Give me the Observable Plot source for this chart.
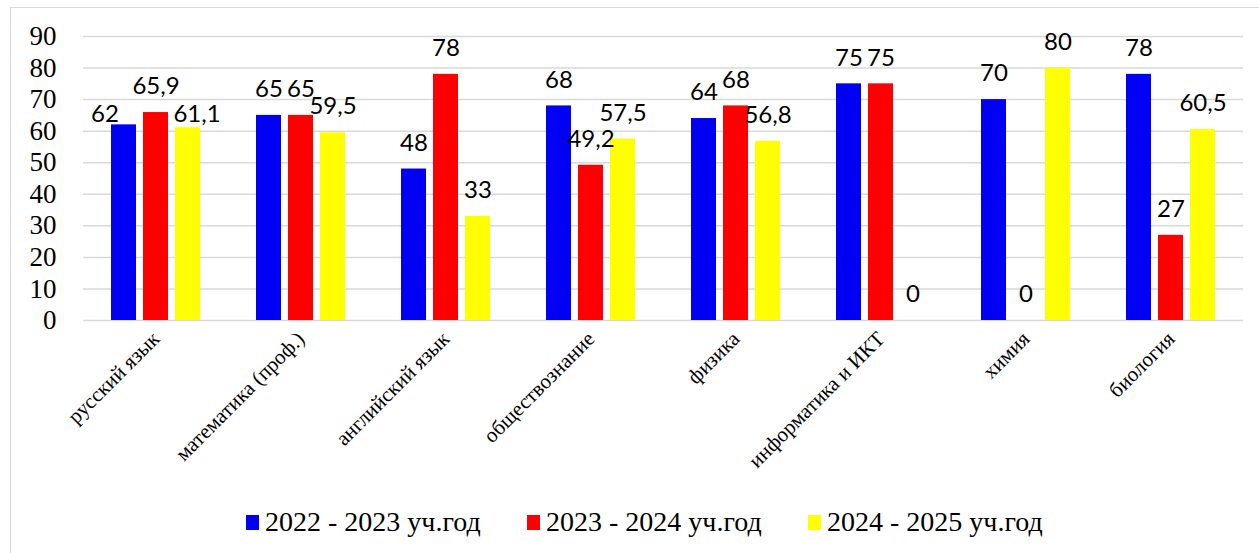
<!DOCTYPE html>
<html>
<head>
<meta charset="utf-8">
<script src="https://cdn.jsdelivr.net/npm/d3@7"></script>
<script src="https://cdn.jsdelivr.net/npm/@observablehq/plot@0.6"></script>
<style>
  html, body { margin: 0; padding: 0; background: #fff; overflow: hidden; }
  #wrap { position: relative; width: 1259px; height: 553px; overflow: hidden; }
  #frame { position: absolute; left: 10px; top: 7px; width: 1300px; height: 600px; border: 1.5px solid #d9d9d9; box-sizing: border-box; }
  #chart { position: absolute; left: 0; top: 0; }
  #legend { position: absolute; left: 0; top: 506px; width: 1259px; height: 32px; font-family: "Liberation Serif", serif; }
  .item { position: absolute; top: 0; height: 32px; }
  .sw { position: absolute; top: 9px; width: 13px; height: 15px; }
  .lt { position: absolute; left: 19px; top: 0; font-size: 28px; line-height: 32px; white-space: nowrap; color: #000; }
</style>
</head>
<body>
<div id="wrap">
  <div id="frame"></div>
  <div id="chart"></div>
  <div id="legend"></div>
</div>
<script>
const subjects = ["русский язык", "математика (проф.)", "английский язык", "обществознание", "физика", "информатика и ИКТ", "химия", "биология"];
const years = ["2022 - 2023 уч.год", "2023 - 2024 уч.год", "2024 - 2025 уч.год"];
const values2022 = [62, 65, 48, 68, 64, 75, 70, 78];
const values2023 = [65.9, 65, 78, 49.2, 68, 75, 0, 27];
const values2024 = [61.1, 59.5, 33, 57.5, 56.8, 0, 80, 60.5];
const yTicks = [0, 10, 20, 30, 40, 50, 60, 70, 80, 90];
const colors = ["#0000f5", "#ff0000", "#ffff00"];

// label nudges (to avoid overlapping labels, as in the original)
const labelNudge = {
  "русский язык|2022 - 2023 уч.год": [-19, 15],
  "русский язык|2024 - 2025 уч.год": [9, 13]
};

const series = [values2022, values2023, values2024];
const data = [];
subjects.forEach((s, i) => {
  years.forEach((yr, j) => {
    data.push({subject: s, year: yr, value: series[j][i]});
  });
});
const fmt = v => String(v).replace(".", ",");
const normal = data.filter(d => !labelNudge[d.subject + "|" + d.year]);
const nudged = data.filter(d => labelNudge[d.subject + "|" + d.year]);

const chart = Plot.plot({
  width: 1259,
  height: 553,
  marginLeft: 82,
  marginRight: 16,
  marginTop: 36,
  marginBottom: 233,
  style: {background: "transparent", overflow: "visible"},
  fx: {domain: subjects, paddingInner: 0, paddingOuter: 0},
  x: {domain: years, paddingInner: 0.219, paddingOuter: 0.875, axis: null},
  y: {domain: [0, 90], ticks: yTicks},
  color: {domain: years, range: colors},
  marks: [
    Plot.gridY(yTicks, {stroke: "#d9d9d9", strokeOpacity: 1, strokeWidth: 1.5}),
    Plot.axisY(yTicks, {tickSize: 0, tickPadding: 27, fontSize: 27, fontFamily: "Liberation Serif", fill: "#000", label: null}),
    Plot.axisFx({anchor: "bottom", tickRotate: -45, tickSize: 0, tickPadding: 15, fontSize: 21, fontFamily: "Liberation Serif", fill: "#000", label: null}),
    Plot.barY(data, {fx: "subject", x: "year", y: "value", fill: "year"}),
    Plot.text(normal, {fx: "subject", x: "year", y: "value", text: d => fmt(d.value), dy: -26, fontSize: 24, fontFamily: "Lato", fill: "#000"}),
    ...nudged.map(d => {
      const [ddx, ddy] = labelNudge[d.subject + "|" + d.year];
      return Plot.text([d], {fx: "subject", x: "year", y: "value", text: d => fmt(d.value), dx: ddx, dy: -26 + ddy, fontSize: 24, fontFamily: "Lato", fill: "#000"});
    })
  ]
});
document.getElementById("chart").appendChild(chart);

const legendPos = [246, 527, 808];
const legend = document.getElementById("legend");
years.forEach((yr, j) => {
  const item = document.createElement("div");
  item.className = "item";
  item.style.left = legendPos[j] + "px";
  const sw = document.createElement("div");
  sw.className = "sw";
  sw.style.background = colors[j];
  const t = document.createElement("div");
  t.className = "lt";
  t.textContent = yr;
  item.appendChild(sw);
  item.appendChild(t);
  legend.appendChild(item);
});
</script>
</body>
</html>
